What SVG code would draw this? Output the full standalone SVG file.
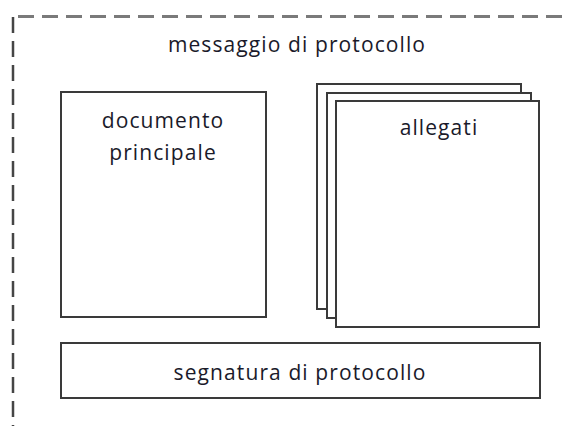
<svg xmlns="http://www.w3.org/2000/svg" width="568" height="426" viewBox="0 0 568 426">
<style>
.box{fill:#fff;stroke:#3a3a3a;stroke-width:2}
.t{font-family:"Open Sans",sans-serif;font-size:21px;letter-spacing:1.1px;fill:#1a1a2a;text-anchor:middle}
.dash{fill:none;stroke-dasharray:16,8}
</style>
<rect width="568" height="426" fill="#fff"/>
<g id="connectors"></g>
<g id="messaggio">
<path class="dash" d="M18,16.5 H568" stroke="#7a7a7a" stroke-width="3"/>
<path class="dash" d="M13,17 V426" stroke="#454545" stroke-width="2.5"/>
<text class="t" x="297" y="52">messaggio di protocollo</text>
</g>
<g id="documento">
<rect class="box" x="61" y="92" width="205" height="225"/>
<text class="t" x="163" y="128">documento</text>
<text class="t" x="163" y="160">principale</text>
</g>
<g id="allegati">
<rect class="box" x="317" y="84" width="204" height="225"/>
<rect class="box" x="327" y="93" width="204" height="225"/>
<rect class="box" x="336" y="101" width="203" height="226"/>
<text class="t" x="439" y="135">allegati</text>
</g>
<g id="segnatura">
<rect class="box" x="61" y="343" width="479" height="55"/>
<text class="t" x="300" y="380">segnatura di protocollo</text>
</g>
</svg>
